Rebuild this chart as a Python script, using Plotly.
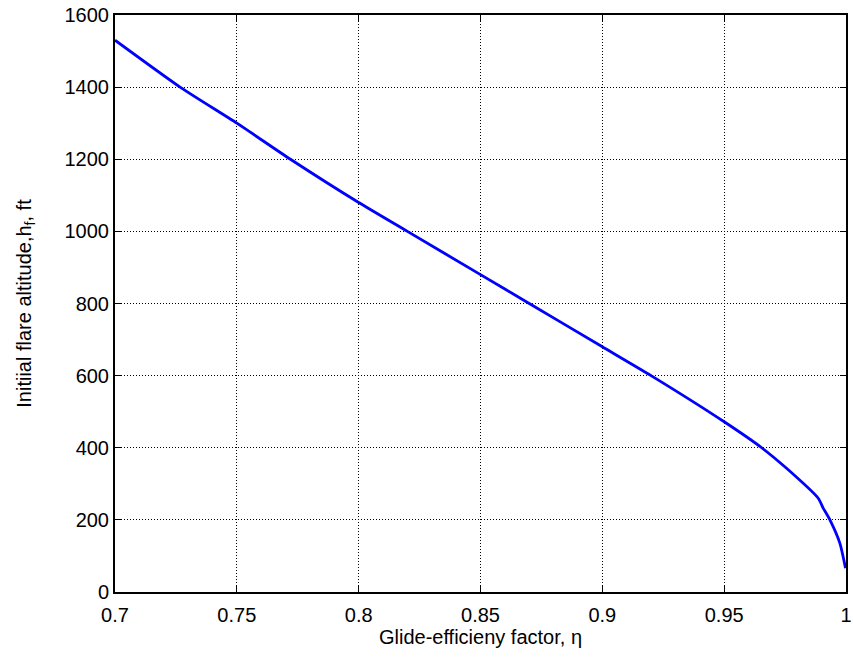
import plotly.graph_objects as go

eta = [0.700, 0.7267, 0.750, 0.772, 0.800, 0.820, 0.850, 0.870, 0.900, 0.920,
       0.950, 0.9654, 0.9756, 0.9886, 0.9907, 0.9934, 0.9975, 0.9998]
h_f = [1530, 1400, 1300, 1200, 1080, 1000, 880, 800, 680, 600,
       472, 400, 343, 260, 232, 200, 135, 66]

x_ticks = [0.7, 0.75, 0.8, 0.85, 0.9, 0.95, 1.0]
x_labels = ["0.7", "0.75", "0.8", "0.85", "0.9", "0.95", "1"]
y_ticks = [0, 200, 400, 600, 800, 1000, 1200, 1400, 1600]

fig = go.Figure()
fig.add_trace(go.Scatter(x=eta, y=h_f, mode="lines",
                         line=dict(color="#0000ff", width=2.8, shape="spline", smoothing=0.6),
                         showlegend=False))

font = dict(family="Liberation Sans", size=20, color="black")
axis_common = dict(showline=True, linecolor="black", linewidth=2, mirror="ticks",
                   ticks="inside", ticklen=6, tickcolor="black",
                   showgrid=True, gridcolor="black", griddash="1px,2px", gridwidth=1,
                   zeroline=False, tickfont=font, automargin=False)
fig.update_xaxes(range=[0.7, 1.0], tickvals=x_ticks, ticktext=x_labels,
                 ticklabelstandoff=4,
                 title=dict(text="Glide-efficieny factor, η", font=font, standoff=1),
                 **axis_common)
fig.update_yaxes(range=[0, 1600], tickvals=y_ticks,
                 title=dict(text="Initiial flare altitude,h<sub>f</sub>, ft", font=font, standoff=28),
                 **axis_common)
fig.update_layout(width=853, height=658, margin=dict(l=115, r=7, t=15, b=66),
                  paper_bgcolor="white", plot_bgcolor="white", font=font)
fig.write_html("out.html")
